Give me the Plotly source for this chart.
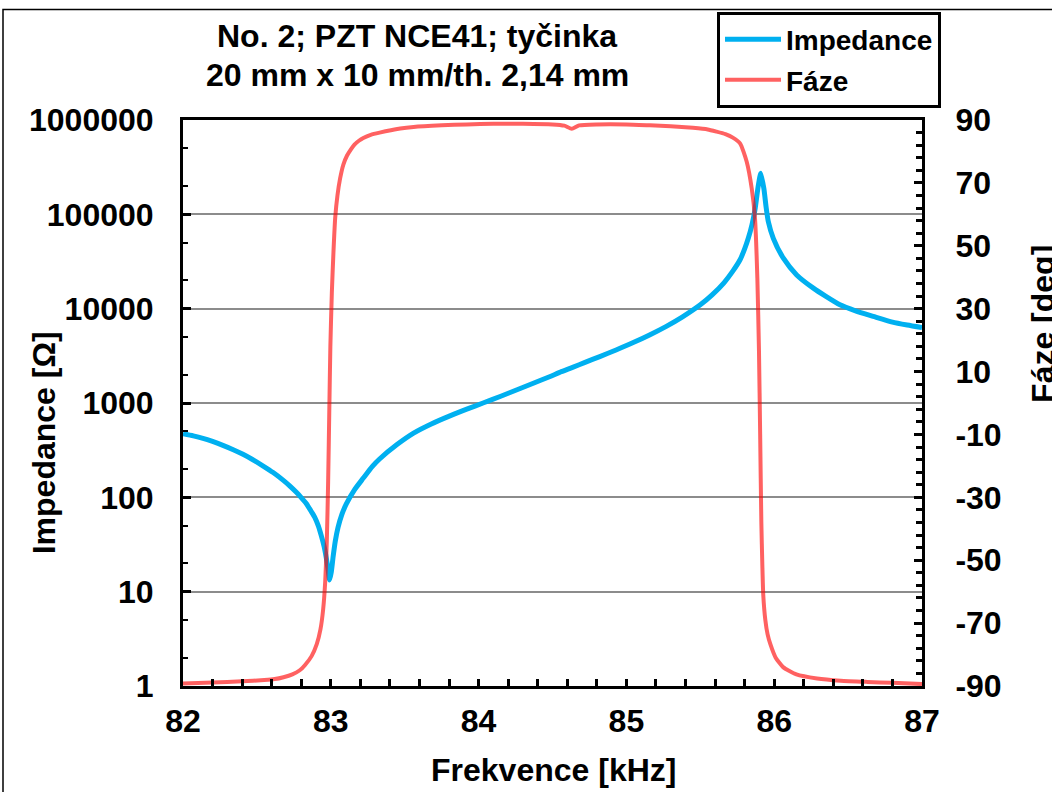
import plotly.graph_objects as go

# ---------------- data ----------------
imp_freq_khz = [82.00, 82.07, 82.135, 82.20, 82.27, 82.34, 82.406, 82.47, 82.54, 82.61,
                82.677, 82.72, 82.767, 82.80, 82.834, 82.865, 82.89, 82.915, 82.936, 82.955,
                82.97, 82.982, 82.992, 83.003, 83.015, 83.03, 83.049, 83.075, 83.105, 83.16,
                83.22, 83.28, 83.33, 83.45, 83.56, 83.68, 83.81, 83.92, 84.03, 84.15,
                84.26, 84.37, 84.48, 84.56, 84.64, 84.72, 84.82, 84.93, 85.05, 85.16,
                85.27, 85.38, 85.50, 85.58, 85.66, 85.72, 85.769, 85.80, 85.825, 85.85,
                85.87, 85.892, 85.909, 85.93, 85.945, 85.96, 85.994, 86.062, 86.152, 86.265,
                86.35, 86.445, 86.55, 86.67, 86.80, 86.90, 87.00]
impedance_ohm = [472, 448, 422, 391, 356, 320, 286, 252, 216, 183,
                 152, 133, 113, 99.5, 86, 72, 62, 50, 39, 30,
                 22.5, 17, 13.3, 16, 23, 34, 48, 66, 85, 120,
                 160, 212, 255, 365, 480, 600, 735, 860, 1000, 1180,
                 1380, 1620, 1900, 2150, 2400, 2700, 3100, 3650, 4400, 5300,
                 6500, 8200, 11000, 14000, 18800, 25000, 33000, 43000, 56000, 78000,
                 112000, 200000, 272000, 188000, 120000, 84000, 55700, 34300, 22800, 16500,
                 13500, 11000, 9500, 8300, 7200, 6700, 6300]

phase_freq_khz = [82.00, 82.20, 82.40, 82.55, 82.62, 82.68, 82.74, 82.79, 82.826, 82.87,
                  82.905, 82.93, 82.948, 82.962, 82.973, 82.982, 82.99, 82.997, 83.007, 83.018,
                  83.03, 83.045, 83.063, 83.085, 83.11, 83.135, 83.16, 83.19, 83.22, 83.27,
                  83.33, 83.47, 83.56, 83.75, 83.92, 84.10, 84.30, 84.50, 84.58, 84.63,
                  84.68, 84.80, 85.00, 85.16, 85.30, 85.45, 85.55, 85.61, 85.67, 85.72,
                  85.77, 85.814, 85.848, 85.87, 85.886, 85.897, 85.905, 85.913, 85.92, 85.926,
                  85.94, 85.955, 85.974, 86.01, 86.06, 86.15, 86.29, 86.45, 86.63, 86.80,
                  87.00]
phase_deg = [-89.2, -88.9, -88.5, -88.1, -87.8, -87.2, -86.3, -85.0, -83.3, -80.5,
             -76.7, -72.0, -65.8, -57.0, -44.0, -25.0, -2.0, 18.0, 35.0, 48.0,
             59.0, 66.0, 71.4, 75.8, 78.7, 80.6, 82.2, 83.4, 84.3, 85.3,
             86.0, 87.3, 87.8, 88.3, 88.6, 88.8, 88.8, 88.6, 88.2, 87.2,
             88.3, 88.6, 88.6, 88.3, 88.0, 87.5, 87.0, 86.3, 85.5, 84.4,
             82.5, 76.7, 68.2, 58.7, 39.7, 16.5, -10.0, -38.0, -52.0, -61.0,
             -69.0, -73.5, -76.7, -81.0, -84.0, -86.3, -87.6, -88.3, -88.7, -89.0,
             -89.4]

x_tick_vals = [82, 83, 84, 85, 86, 87]
imp_tick_vals = [1, 10, 100, 1000, 10000, 100000, 1000000]
imp_tick_text = ["1", "10", "100", "1000", "10000", "100000", "1000000"]
phase_tick_vals = [-90, -70, -50, -30, -10, 10, 30, 50, 70, 90]
phase_tick_text = ["-90", "-70", "-50", "-30", "-10", "10", "30", "50", "70", "90"]

title_line1 = "No. 2; PZT NCE41; tyčinka"
title_line2 = "20 mm x 10 mm/th. 2,14 mm"
x_title = "Frekvence [kHz]"
y_title = "Impedance [Ω]"
y2_title = "Fáze [deg]"

# ---------------- layout helpers ----------------
W, H = 1052, 792
L, R, T, B = 183, 922, 117, 686
pw, ph = R - L, B - T


def px(x):
    return (x - L) / pw


def py(y):
    return (B - y) / ph


FONT = "Liberation Sans, Arial, sans-serif"
BLUE = "#00B0F0"
RED = "rgba(255,0,0,0.62)"

fig = go.Figure()
fig.add_trace(go.Scatter(x=imp_freq_khz, y=impedance_ohm, mode="lines", name="Impedance",
                         line=dict(color=BLUE, width=5, shape="spline", smoothing=0.6),
                         yaxis="y", legendgroup="a"))
fig.add_trace(go.Scatter(x=phase_freq_khz, y=phase_deg, mode="lines", name="Fáze",
                         line=dict(color=RED, width=4, shape="spline", smoothing=0.5),
                         yaxis="y2", legendgroup="b"))

tickfont = dict(family=FONT, size=32, color="black", weight="bold")

fig.update_layout(
    width=W, height=H, autosize=False,
    margin=dict(l=L, r=W - R, t=T, b=H - B, pad=0),
    paper_bgcolor="white", plot_bgcolor="white",
    showlegend=True,
    legend=dict(x=px(717), y=py(8), xanchor="left", yanchor="top",
                bgcolor="white", bordercolor="black", borderwidth=3,
                font=dict(family=FONT, size=28, color="black", weight="bold"),
                tracegroupgap=1, itemwidth=56),
    xaxis=dict(range=[82, 87], tickvals=x_tick_vals, ticks="inside", ticklen=7, tickwidth=3,
               tickcolor="black", showline=True, linewidth=3, linecolor="black", mirror=True,
               showgrid=False, zeroline=False, tickfont=tickfont, ticklabelstandoff=5,
               minor=dict(dtick=0.2, ticks="inside", ticklen=7, tickwidth=3, tickcolor="black",
                          showgrid=False)),
    yaxis=dict(type="log", range=[0, 6], tickvals=imp_tick_vals, ticktext=imp_tick_text,
               ticks="inside",
               ticklen=8, tickwidth=3, tickcolor="black", showline=True, linewidth=3,
               linecolor="black", showgrid=True, gridcolor="#8c8c8c", gridwidth=1.5,
               zeroline=False, tickfont=tickfont, ticklabelstandoff=20,
               minor=dict(ticks="inside", ticklen=5, tickwidth=2, tickcolor="black",
                          showgrid=False)),
    yaxis2=dict(overlaying="y", side="right", range=[-90, 90], tickvals=phase_tick_vals,
                ticktext=phase_tick_text,
                ticks="inside", ticklen=8, tickwidth=3, tickcolor="black", showline=True,
                linewidth=3, linecolor="black", showgrid=False, zeroline=False,
                tickfont=tickfont, ticklabelstandoff=24,
                minor=dict(dtick=4, tick0=-90, ticks="inside", ticklen=6, tickwidth=3,
                           tickcolor="black", showgrid=False)),
)

ann_font = dict(family=FONT, size=32, color="black", weight="bold")
fig.add_annotation(text=title_line1, xref="paper", yref="paper", x=px(417), y=py(33),
                   xanchor="center", yanchor="middle", showarrow=False, font=ann_font)
fig.add_annotation(text=title_line2, xref="paper", yref="paper", x=px(417), y=py(72),
                   xanchor="center", yanchor="middle", showarrow=False, font=ann_font)
fig.add_annotation(text=x_title, xref="paper", yref="paper", x=px(553), y=py(770),
                   xanchor="center", yanchor="middle", showarrow=False, font=ann_font)
fig.add_annotation(text=y_title, xref="paper", yref="paper", x=px(44), y=py(442),
                   xanchor="center", yanchor="middle", showarrow=False, font=ann_font,
                   textangle=-90)
fig.add_annotation(text=y2_title, xref="paper", yref="paper", x=px(1043), y=py(322),
                   xanchor="center", yanchor="middle", showarrow=False, font=ann_font,
                   textangle=-90)

# outer chart frame (extends beyond the visible page on right and bottom)
fig.add_shape(type="rect", xref="paper", yref="paper", x0=px(3), y0=py(820), x1=px(1080),
              y1=py(6), line=dict(color="black", width=1.5), fillcolor="rgba(0,0,0,0)",
              layer="below")

fig.write_html("out.html")
